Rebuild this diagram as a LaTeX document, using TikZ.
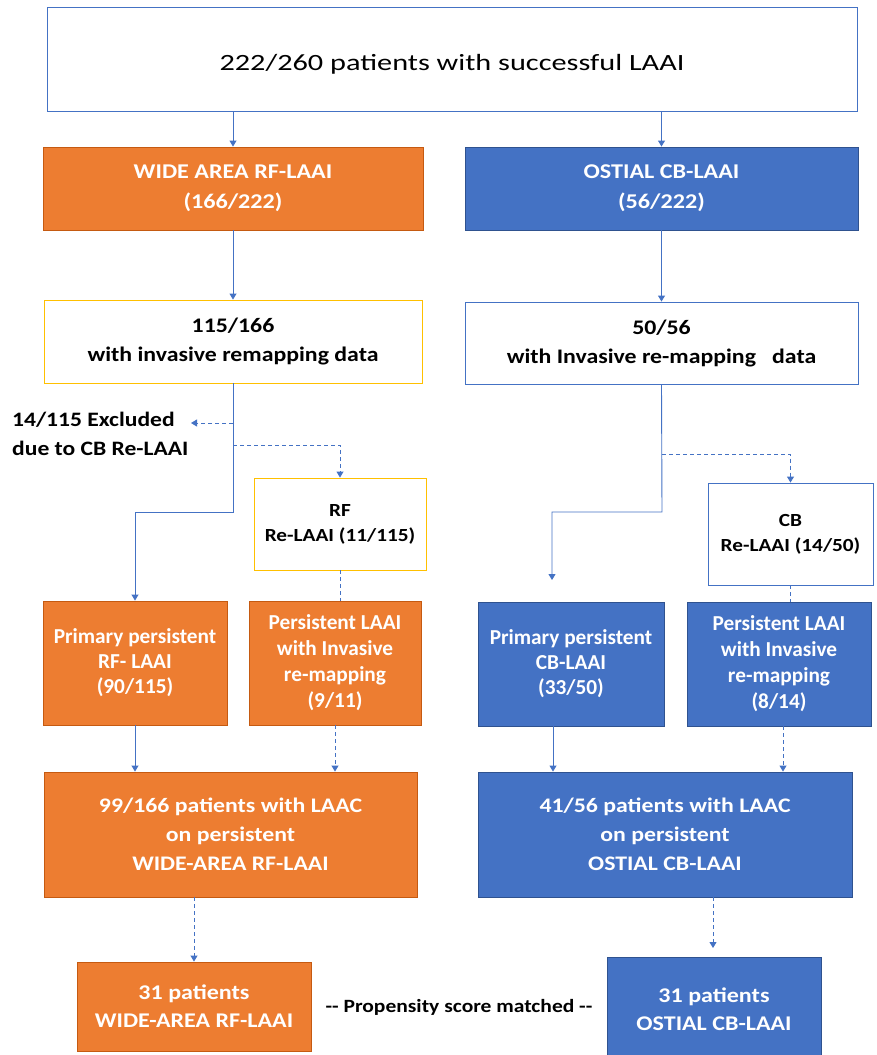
\documentclass[tikz,border=0pt]{standalone}
\usepackage{fontspec}
\setmainfont{Carlito}[FakeStretch=1.15]
\newfontfamily\plainf{Carlito}
\newfontfamily\topf{Carlito}[FakeStretch=1.3]
\usetikzlibrary{arrows.meta,calc}
\definecolor{myorange}{HTML}{ED7D31}
\definecolor{myorangeD}{HTML}{C55A11}
\definecolor{myblue}{HTML}{4472C4}
\definecolor{myblueD}{HTML}{2F528F}
\definecolor{myyellow}{HTML}{FFC000}
\newcommand\mkbox[7]{\node[#6, minimum width={(#4)-(#2)}, minimum height={(#5)-(#3)}] (#1) at ({((#2)+(#4))/2},{-((#3)+(#5))/2}) {#7};}
\tikzset{
  basebox/.style={align=center, inner sep=0pt, line width=0.9pt},
  obox/.style={basebox, fill=myorange, draw=myorangeD, text=white},
  bbox/.style={basebox, fill=myblue, draw=myblueD, text=white},
  ybox/.style={basebox, fill=white, draw=myyellow, text=black},
  wbox/.style={basebox, fill=white, draw=myblue, text=black},
  arr/.style={draw=myblue, line width=0.9pt, -{Triangle[width=7pt,length=6pt]}},
  darr/.style={arr, dash pattern=on 4pt off 3pt},
  dline/.style={draw=myblue, line width=0.9pt, dash pattern=on 4pt off 3pt},
  fA/.style={font=\bfseries\fontsize{21}{30}\selectfont},
  fB/.style={font=\plainf\bfseries\fontsize{21.3}{26}\selectfont},
  fC/.style={font=\bfseries\fontsize{20.7}{29}\selectfont},
  fD/.style={font=\plainf\bfseries\fontsize{21.3}{25}\selectfont},
  fE/.style={font=\bfseries\fontsize{18.5}{25}\selectfont},
  fF/.style={font=\bfseries\fontsize{20.9}{28}\selectfont},
}
\begin{document}
\begin{tikzpicture}[x=1pt,y=1pt]
\useasboundingbox (0,0) rectangle (877,-1055);
\fill[white] (0,0) rectangle (877,-1055);
% top
\mkbox{top}{47}{7}{857}{111}{wbox,font=\topf\fontsize{23.3}{28}\selectfont}{\raisebox{-5pt}[\height][\depth]{222/260 patients with successful LAAI}}
% level 1
\mkbox{o1}{43}{147}{423}{230}{obox,fA}{WIDE AREA RF-LAAI\\(166/222)}
\mkbox{b1}{465}{147}{858}{230}{bbox,fA}{OSTIAL CB-LAAI\\(56/222)}
% level 2
\mkbox{y1}{44}{300}{422}{383}{ybox,fC}{115/166\\with\ invasive\ remapping\ data}
\mkbox{w2}{465}{302}{858}{384}{wbox,fC}{50/56\\with Invasive re-mapping\ \ \ data}
% re-LAAI boxes
\mkbox{rf}{254}{478}{426}{570}{ybox,fE}{RF\\Re-LAAI (11/115)}
\mkbox{cb}{708}{483}{873}{585}{wbox,fE}{CB\\Re-LAAI (14/50)}
\node[anchor=west, align=left, inner sep=0pt, font=\bfseries\fontsize{20.5}{29}\selectfont] (excl) at (12,-434) {14/115 Excluded\\due to CB Re-LAAI};
% level 3
\mkbox{o2}{43}{601}{227}{725}{obox,fD}{Primary persistent\\RF- LAAI\\(90/115)}
\mkbox{o3}{249}{601}{421}{725}{obox,fB}{Persistent LAAI\\with Invasive\\re-mapping\\(9/11)}
\mkbox{b2}{478}{602}{664}{726}{bbox,fD}{Primary persistent\\CB-LAAI\\(33/50)}
\mkbox{b3}{687}{602}{871}{726}{bbox,fB}{Persistent LAAI\\with Invasive\\re-mapping\\(8/14)}
% level 4
\mkbox{L1}{44}{772}{417}{897}{obox,fC}{99/166 patients with LAAC\\on persistent\\WIDE-AREA RF-LAAI}
\mkbox{L2}{478}{772}{852}{897}{bbox,fC}{41/56 patients with LAAC\\on persistent\\OSTIAL CB-LAAI}
% level 5
\mkbox{f1}{77}{962}{311}{1051}{obox,fF}{31 patients\\WIDE-AREA RF-LAAI}
\mkbox{f2}{607}{957}{821}{1061}{bbox,fF}{31 patients\\OSTIAL CB-LAAI}
\node[inner sep=0pt, font=\bfseries\fontsize{18.7}{22}\selectfont] (ps) at (459,-1007) {-{}- Propensity score matched -{}-};
% coordinates
\coordinate (j1) at (233,-512);
\coordinate (e1) at (233,-423);
\coordinate (e2) at (191,-423);
\coordinate (r1) at (233,-445);
\coordinate (j2) at (662,-512);
\coordinate (a2) at (552,-580);
\coordinate (c1) at (662,-454);
\coordinate (t2) at (713,-948);
% connectors
\draw[arr] (top.south -| o1.north) -- (o1.north);
\draw[arr] (top.south -| b1.north) -- (b1.north);
\draw[arr] (o1.south) -- (y1.north);
\draw[arr] (b1.south) -- (w2.north);
\draw[arr] (y1.south) -- (j1) -| (o2.north);
\draw[darr] (e1) -- (e2);
\draw[darr] (r1) -| (rf.north);
\draw[dline] (rf.south) -- (rf.south |- o3.north);
\draw[arr] (o2.south) -- (o2.south |- L1.north);
\draw[darr] (o3.south) -- (o3.south |- L1.north);
\draw[darr] (L1.south -| f1.north) -- (f1.north);
\draw[arr] (w2.south) -- (j2) -| (a2);
\draw[darr] (c1) -| (cb.north);
\draw[dline] (cb.south) -- (cb.south |- b3.north);
\draw[arr] ([xshift=-18pt]b2.south) -- ([xshift=-18pt]b2.south |- L2.north);
\draw[darr] ([xshift=4pt]b3.south) -- ([xshift=4pt]b3.south |- L2.north);
\draw[darr] (L2.south -| t2) -- (t2);
\end{tikzpicture}
\end{document}
